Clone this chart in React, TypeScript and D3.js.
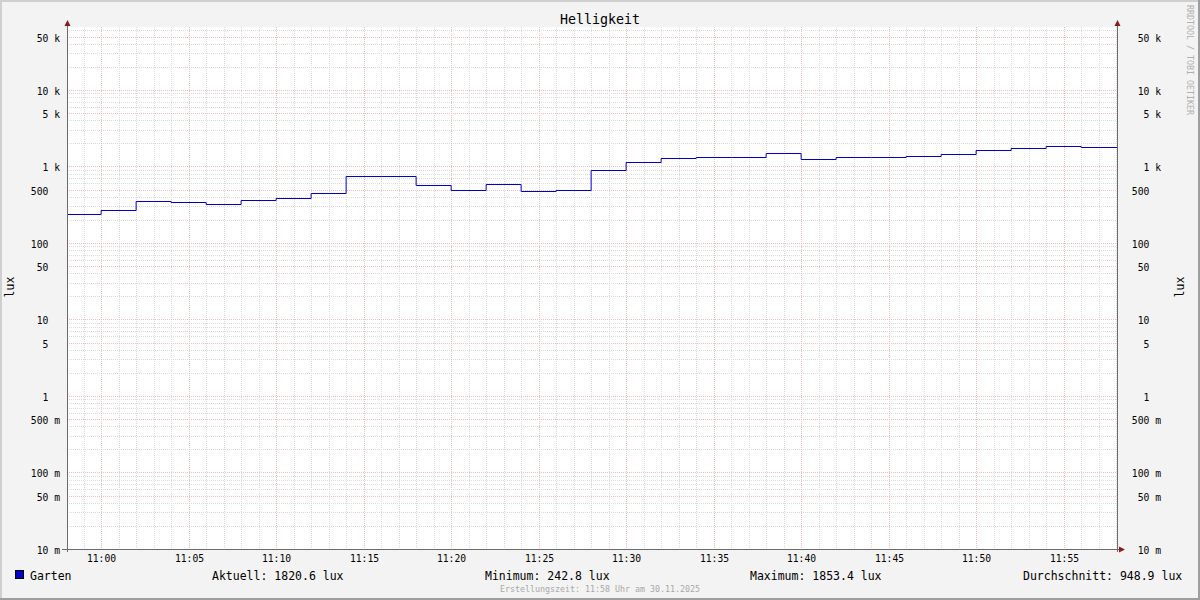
import React from "react";
import * as d3 from "d3";

// ---------- data ----------
const chartTitle = "Helligkeit";
const seriesName = "Garten";
const unitLabel = "lux";
const stepTimes = [
  "10:58", "11:00", "11:02", "11:04", "11:06", "11:08", "11:10", "11:12", "11:14", "11:16",
  "11:18", "11:20", "11:22", "11:24", "11:26", "11:28", "11:30", "11:32", "11:34", "11:36",
  "11:38", "11:40", "11:42", "11:44", "11:46", "11:48", "11:50", "11:52", "11:54", "11:56",
];
const luxValues = [
  242.8, 268, 351, 340, 320, 361, 384, 450, 751, 751,
  573, 500, 590, 478, 489, 892, 1145, 1280, 1331, 1331,
  1488, 1242, 1331, 1331, 1372, 1443, 1629, 1730, 1853.4, 1820.6,
];
const windowStart = "10:58:03";
const windowEnd = "11:58:03";
const yTickValues = [0.01, 0.05, 0.1, 0.5, 1, 5, 10, 50, 100, 500, 1000, 5000, 10000, 50000];
const yTickNumbers = ["10", "50", "100", "500", "1", "5", "10", "50", "100", "500", "1", "5", "10", "50"];
const yTickSuffixes = ["m", "m", "m", "m", "", "", "", "", "", "", "k", "k", "k", "k"];
const yMinorMultipliers = [2, 3, 4, 6, 7, 8, 9];
const yDecades = [0.01, 0.1, 1, 10, 100, 1000, 10000];
const yDomain = [0.01, 66600];
const legendStats = ["Aktuell: 1820.6 lux", "Minimum: 242.8 lux", "Maximum: 1853.4 lux", "Durchschnitt: 948.9 lux"];
const footerText = "Erstellungszeit: 11:58 Uhr am 30.11.2025";
const watermark = "RRDTOOL / TOBI OETIKER";

// ---------- layout ----------
const W = 1200, H = 600;
const L = 67, R = 1117, T = 27, B = 549;
const MONO = "'DejaVu Sans Mono', monospace";
const AX = 9.7;
const CW = AX * 0.602;

const parseHM = d3.timeParse("%H:%M");
const parseHMS = d3.timeParse("%H:%M:%S");

export default function App() {
  const x = d3.scaleTime().domain([parseHMS(windowStart)!, parseHMS(windowEnd)!]).range([L, R]);
  const y = d3.scaleLog().domain(yDomain).range([B, T]);

  const pts: [Date, number][] = stepTimes.map((t, i) => [parseHM(t)!, luxValues[i]]);
  pts.push([parseHMS(windowEnd)!, luxValues[luxValues.length - 1]]);
  const line = d3.line<[Date, number]>()
    .x(d => x(d[0]))
    .y(d => Math.round(y(d[1])) + 0.5)
    .curve(d3.curveStepAfter);

  const minuteTicks = x.ticks(d3.timeMinute.every(1)!);
  const majorX = minuteTicks.filter(d => d.getMinutes() % 5 === 0);
  const minorX = minuteTicks.filter(d => d.getMinutes() % 5 !== 0);
  const fmt = d3.timeFormat("%H:%M");

  const minorY: number[] = [];
  yDecades.forEach(dec => yMinorMultipliers.forEach(m => {
    const v = dec * m;
    if (v >= yDomain[0] && v <= yDomain[1]) minorY.push(v);
  }));

  const px = (v: number) => Math.round(v) + 0.5;
  const legendX = [212, 485, 750, 1023];

  return (
    <div style={{ position: "fixed", left: 0, top: 0 }}>
      <svg width={W} height={H} style={{ display: "block" }}>
        <defs>
          <clipPath id="plot">
            <rect x={L} y={T} width={R - L} height={B - T} />
          </clipPath>
        </defs>
        <rect x={0} y={0} width={W} height={H} fill="#f3f3f3" />
        {/* frame */}
        <rect x={0} y={0} width={W} height={2} fill="#cfcfcf" />
        <rect x={0} y={0} width={2} height={H} fill="#cfcfcf" />
        <rect x={0} y={H - 2} width={W} height={2} fill="#9e9e9e" />
        <rect x={W - 2} y={0} width={2} height={H} fill="#9e9e9e" />

        <rect x={L} y={T} width={R - L} height={B - T} fill="#ffffff" />

        {/* grid */}
        <g strokeDasharray="1,1" strokeWidth={1} shapeRendering="crispEdges">
          {minorY.map((v, i) => (
            <line key={"my" + i} x1={L} x2={R} y1={px(y(v))} y2={px(y(v))} stroke="#dcdcdc" />
          ))}
          {minorX.map((d, i) => (
            <line key={"mx" + i} x1={px(x(d))} x2={px(x(d))} y1={T} y2={B} stroke="#dcdcdc" />
          ))}
          {yTickValues.map((v, i) => (
            <line key={"My" + i} x1={L} x2={R} y1={px(y(v))} y2={px(y(v))} stroke="#ecc0c0" />
          ))}
          {majorX.map((d, i) => (
            <line key={"Mx" + i} x1={px(x(d))} x2={px(x(d))} y1={T} y2={B} stroke="#ecc0c0" />
          ))}
        </g>

        {/* data */}
        <path d={line(pts) || ""} fill="none" stroke="#0000cc" strokeWidth={1} clipPath="url(#plot)" />

        {/* axes */}
        <g stroke="#6b6b6b" strokeWidth={1}>
          <line x1={L + 0.5} x2={L + 0.5} y1={23} y2={B + 3} />
          <line x1={R + 0.5} x2={R + 0.5} y1={23} y2={B + 3} />
          <line x1={L - 5} x2={R + 3} y1={B + 0.5} y2={B + 0.5} />
        </g>
        <g fill="#8b1a1a">
          <path d={`M${L - 2.5},${26} L${L + 3.5},${26} L${L + 0.5},${20} Z`} />
          <path d={`M${R - 2.5},${26} L${R + 3.5},${26} L${R + 0.5},${20} Z`} />
          <path d={`M${R + 2},${B - 2.5} L${R + 2},${B + 3.5} L${R + 8},${B + 0.5} Z`} />
        </g>

        {/* y labels */}
        <g fontFamily={MONO} fontSize={AX} fill="#000">
          {yTickValues.map((v, i) => {
            const yy = px(y(v)) + 4;
            return (
              <g key={"yl" + i}>
                <text x={60 - 2 * CW} y={yy} textAnchor="end">{yTickNumbers[i]}</text>
                {yTickSuffixes[i] && <text x={60 - CW} y={yy}>{yTickSuffixes[i]}</text>}
                <text x={1161 - 2 * CW} y={yy} textAnchor="end">{yTickNumbers[i]}</text>
                {yTickSuffixes[i] && <text x={1161 - CW} y={yy}>{yTickSuffixes[i]}</text>}
              </g>
            );
          })}
          {majorX.map((d, i) => (
            <text key={"xl" + i} x={px(x(d))} y={562} textAnchor="middle">{fmt(d)}</text>
          ))}
        </g>

        {/* title */}
        <text x={600} y={24} textAnchor="middle" fontFamily={MONO} fontSize={13.3} fill="#000">{chartTitle}</text>

        {/* unit labels */}
        <text transform="translate(14,287) rotate(-90)" textAnchor="middle" fontFamily={MONO} fontSize={11.5} fill="#000">{unitLabel}</text>
        <text transform="translate(1184,287) rotate(-90)" textAnchor="middle" fontFamily={MONO} fontSize={11.5} fill="#000">{unitLabel}</text>

        {/* watermark */}
        <text transform="translate(1187,5) rotate(90)" fontFamily={MONO} fontSize={8.3} fill="#b0b0b0">{watermark}</text>

        {/* legend */}
        <rect x={15.5} y={570.5} width={8} height={8} fill="#0000cc" stroke="#000" strokeWidth={1} />
        <g fontFamily={MONO} fontSize={11.5} fill="#000">
          <text x={30} y={579.5}>{seriesName}</text>
          {legendStats.map((s, i) => (
            <text key={"lg" + i} x={legendX[i]} y={579.5}>{s}</text>
          ))}
        </g>

        {/* footer */}
        <text x={600} y={592} textAnchor="middle" fontFamily={MONO} fontSize={8.3} fill="#a8a8a8">{footerText}</text>
      </svg>
    </div>
  );
}
